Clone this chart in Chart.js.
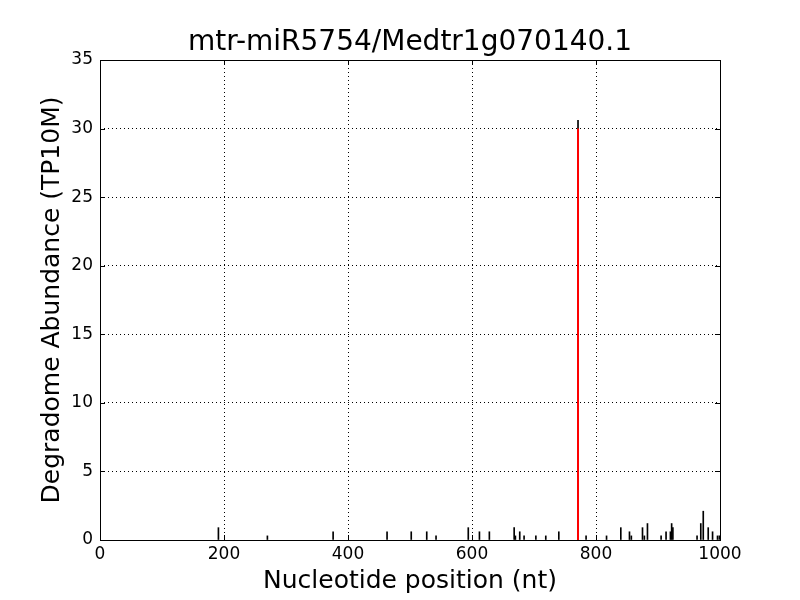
<!DOCTYPE html>
<html>
<head>
<meta charset="utf-8">
<script src="https://cdn.jsdelivr.net/npm/chart.js@4/dist/chart.umd.min.js"></script>
<style>
  html, body { margin: 0; padding: 0; background: #fff; }
  #wrap { width: 800px; height: 600px; }
</style>
</head>
<body>
<div id="wrap"><canvas id="myChart" width="800" height="600"></canvas></div>
<script>
const chartTitle = 'mtr-miR5754/Medtr1g070140.1';
const positions = [191, 270, 376, 463, 502, 527, 542, 594, 612, 628, 668, 670, 677, 684, 703, 719, 740, 771,
    784, 817, 840, 854, 857, 875, 878, 883, 905, 913, 920, 922, 924, 963, 969, 973, 981, 988, 996, 999];
const abundance = [0.9, 0.3, 0.6, 0.6, 0.6, 0.6, 0.3, 0.9, 0.6, 0.6, 0.9, 0.3, 0.6, 0.3, 0.3, 0.3, 0.6, 30.6,
    0.3, 0.3, 0.9, 0.6, 0.3, 0.9, 0.3, 1.2, 0.3, 0.6, 0.6, 1.2, 0.9, 0.3, 1.2, 2.1, 0.9, 0.6, 0.3, 0.3];
const sitePos = 771;
const siteValue = 30;
const xTicks = [0, 200, 400, 600, 800, 1000];
const yTicks = [0, 5, 10, 15, 20, 25, 30, 35];

const fontFamily = "'DejaVu Sans', sans-serif";

// title, frame and inward tick marks like matplotlib
const framePlugin = {
    id: 'frame',
    afterDraw(chart) {
        const ctx = chart.ctx;
        const a = chart.chartArea;
        const xs = chart.scales.x, ys = chart.scales.y;
        ctx.save();
        ctx.strokeStyle = '#000';
        ctx.lineWidth = 1;
        ctx.beginPath();
        xTicks.forEach(v => {
            const px = Math.round(xs.getPixelForValue(v)) + 0.5;
            ctx.moveTo(px, a.bottom); ctx.lineTo(px, a.bottom - 5);
            ctx.moveTo(px, a.top); ctx.lineTo(px, a.top + 5);
        });
        yTicks.forEach(v => {
            const py = Math.round(ys.getPixelForValue(v)) + 0.5;
            ctx.moveTo(a.left, py); ctx.lineTo(a.left + 5, py);
            ctx.moveTo(a.right, py); ctx.lineTo(a.right - 5, py);
        });
        ctx.stroke();
        ctx.strokeRect(a.left + 0.5, a.top + 0.5, a.right - a.left, a.bottom - a.top);
        ctx.fillStyle = '#000';
        ctx.font = '28px ' + fontFamily;
        ctx.textAlign = 'center';
        ctx.textBaseline = 'middle';
        ctx.fillText(chartTitle, (a.left + a.right) / 2, 43);
        ctx.restore();
    }
};

const ctx = document.getElementById('myChart');
new Chart(ctx, {
    type: 'bar',
    data: {
        datasets: [{
            type: 'line',
            data: [{x: sitePos, y: 0}, {x: sitePos, y: siteValue}],
            borderColor: '#ff0000',
            borderWidth: 2,
            pointRadius: 0,
            order: 0
        }, {
            data: positions.map((p, i) => ({x: p, y: abundance[i]})),
            backgroundColor: '#000',
            barThickness: 1,
            order: 1
        }]
    },
    options: {
        responsive: false,
        animation: false,
        layout: { padding: { top: 60, right: 80, bottom: 0, left: 0 } },
        scales: {
            x: {
                type: 'linear',
                min: 0,
                max: 1000,
                offset: false,
                afterFit: s => { s.height = 60; },
                afterBuildTicks: s => { s.ticks = xTicks.map(v => ({value: v})); },
                ticks: {
                    color: '#000', padding: 4, maxRotation: 0,
                    font: { family: fontFamily, size: 17 },
                    callback: v => String(v)
                },
                grid: { color: '#000', drawTicks: false, offset: false },
                border: { display: false, dash: [1, 3] },
                title: {
                    display: true,
                    text: 'Nucleotide position (nt)',
                    color: '#000',
                    padding: { top: 0, bottom: 4 },
                    font: { family: fontFamily, size: 25 }
                }
            },
            y: {
                min: 0,
                max: 35,
                afterFit: s => { s.width = 100; },
                afterBuildTicks: s => { s.ticks = yTicks.map(v => ({value: v})); },
                ticks: { color: '#000', padding: 7, font: { family: fontFamily, size: 17 } },
                grid: { color: '#000', drawTicks: false },
                border: { display: false, dash: [1, 3] },
                title: {
                    display: true,
                    text: 'Degradome Abundance (TP10M)',
                    color: '#000',
                    padding: { top: 37, bottom: 0 },
                    font: { family: fontFamily, size: 25 }
                }
            }
        },
        plugins: {
            legend: { display: false },
            tooltip: { enabled: false }
        }
    },
    plugins: [framePlugin]
});
</script>
</body>
</html>
